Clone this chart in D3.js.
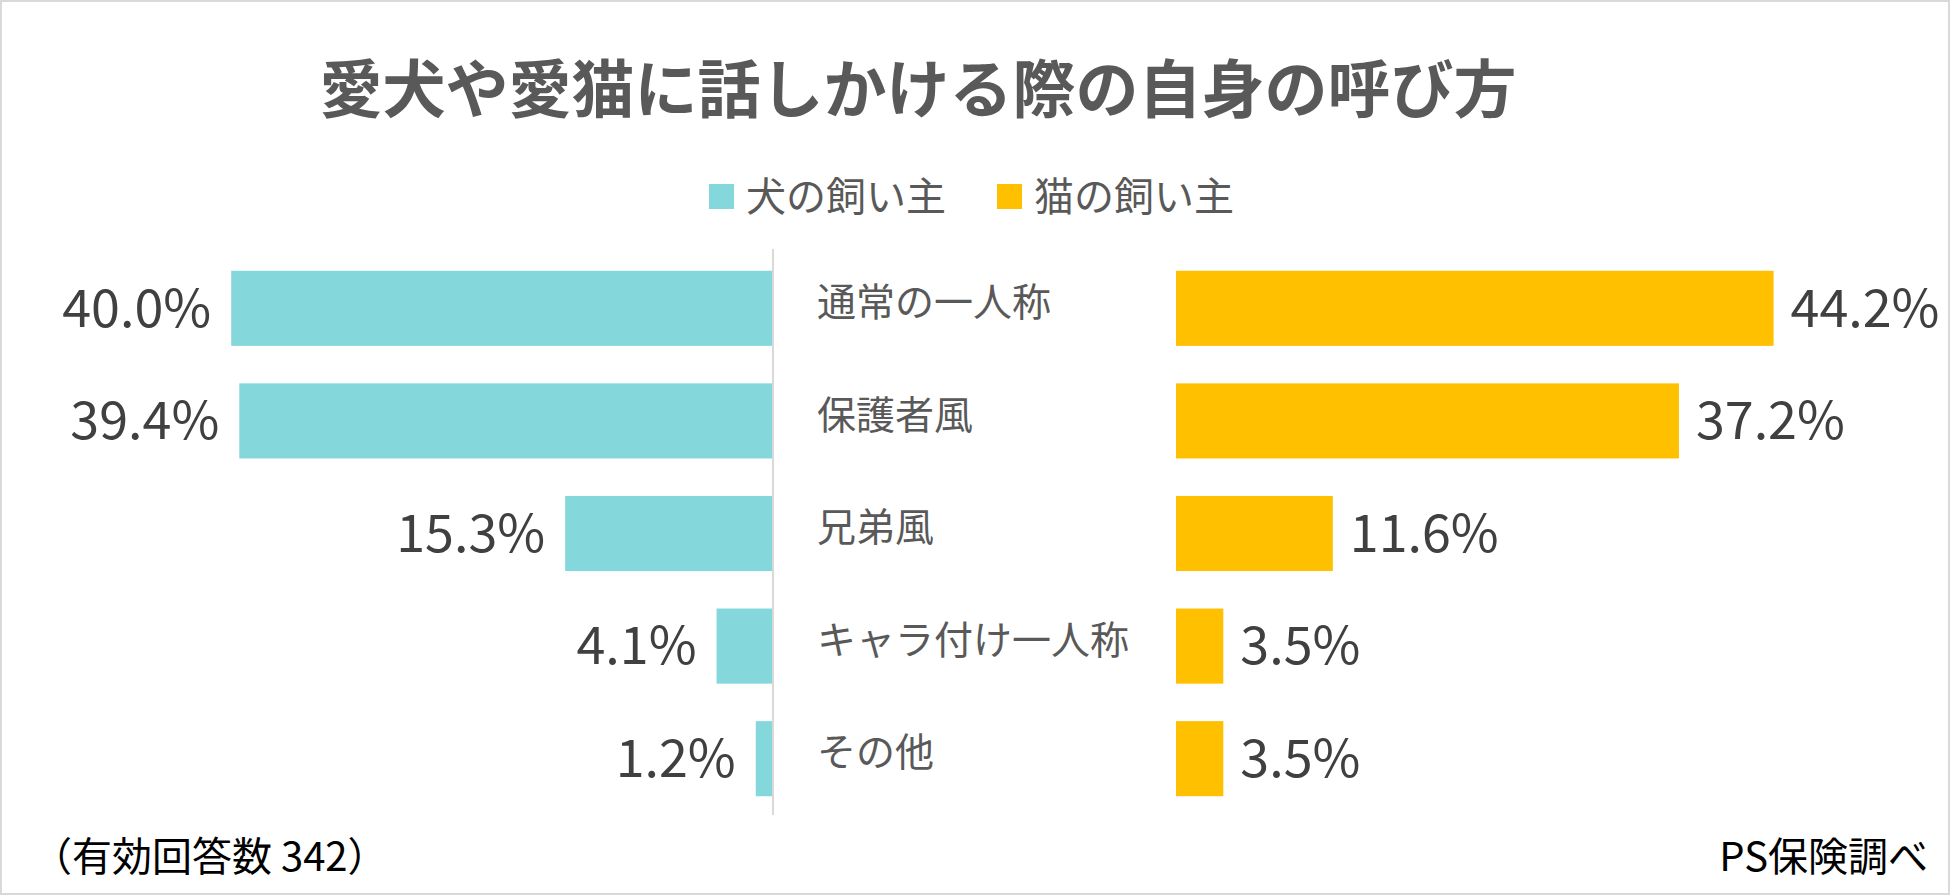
<!DOCTYPE html>
<html>
<head>
<meta charset="utf-8">
<script src="https://cdn.jsdelivr.net/npm/d3@7"></script>
<style>
  body { margin: 0; background: #fff; }
  text { font-family: "Noto Sans CJK JP", "Noto Sans", sans-serif; }
</style>
</head>
<body>
<div id="chart"></div>
<script>
// data
var categories = ["通常の一人称", "保護者風", "兄弟風", "キャラ付け一人称", "その他"];
var dogValues = [40.0, 39.4, 15.3, 4.1, 1.2];
var catValues = [44.2, 37.2, 11.6, 3.5, 3.5];
var seriesNames = ["犬の飼い主", "猫の飼い主"];

var svgWidth = 1950;
var svgHeight = 895;
var colors = ["#84D7DB", "#FFC000"];

var svg = d3.select("#chart")
    .append("svg")
    .attr("width", svgWidth)
    .attr("height", svgHeight);

// outer border
svg.append("rect")
    .attr("x", 1).attr("y", 1)
    .attr("width", svgWidth - 2).attr("height", svgHeight - 2)
    .attr("fill", "#fff")
    .attr("stroke", "#d9d9d9")
    .attr("stroke-width", 2);

// title
svg.append("text")
    .attr("x", 918)
    .attr("y", 90)
    .attr("dy", "0.35em")
    .attr("text-anchor", "middle")
    .style("font-size", "63px")
    .style("font-weight", "bold")
    .attr("fill", "#595959")
    .text("愛犬や愛猫に話しかける際の自身の呼び方");

// legend
var legendX = [709, 997];
seriesNames.forEach(function(name, i) {
    svg.append("rect")
        .attr("x", legendX[i])
        .attr("y", 184)
        .attr("width", 25)
        .attr("height", 25)
        .attr("fill", colors[i]);
    svg.append("text")
        .attr("x", legendX[i] + 37)
        .attr("y", 197)
        .attr("dy", "0.35em")
        .style("font-size", "40px")
        .attr("fill", "#595959")
        .text(name);
});

// scales
var centerX = 772;
var rightStart = 1176;
var pxPerPct = 13.52;

var yScale = d3.scaleBand()
    .domain(categories)
    .range([252, 815])
    .paddingInner(0.333)
    .paddingOuter(0.1667);

var xLeft = d3.scaleLinear()
    .domain([0, 50])
    .range([centerX, centerX - 50 * pxPerPct]);

var xRight = d3.scaleLinear()
    .domain([0, 50])
    .range([rightStart, rightStart + 50 * pxPerPct]);

var chartGroup = svg.append("g");

// left bars (dogs)
chartGroup.selectAll(".dog")
    .data(dogValues)
    .enter()
    .append("rect")
    .attr("class", "dog")
    .attr("x", d => xLeft(d))
    .attr("y", (d, i) => yScale(categories[i]))
    .attr("width", d => xLeft(0) - xLeft(d))
    .attr("height", yScale.bandwidth())
    .attr("fill", colors[0]);

// right bars (cats)
chartGroup.selectAll(".cat")
    .data(catValues)
    .enter()
    .append("rect")
    .attr("class", "cat")
    .attr("x", xRight(0))
    .attr("y", (d, i) => yScale(categories[i]))
    .attr("width", d => xRight(d) - xRight(0))
    .attr("height", yScale.bandwidth())
    .attr("fill", colors[1]);

// center axis line
chartGroup.append("line")
    .attr("x1", centerX + 1).attr("x2", centerX + 1)
    .attr("y1", 249).attr("y2", 815)
    .attr("stroke", "#d9d9d9")
    .attr("stroke-width", 2);

// value labels
chartGroup.selectAll(".dogLabel")
    .data(dogValues)
    .enter()
    .append("text")
    .attr("x", d => xLeft(d) - 20)
    .attr("y", (d, i) => yScale(categories[i]) + yScale.bandwidth() / 2)
    .attr("dy", "0.35em")
    .attr("text-anchor", "end")
    .style("font-size", "52px")
    .attr("fill", "#404040")
    .text(d => d.toFixed(1) + "%");

chartGroup.selectAll(".catLabel")
    .data(catValues)
    .enter()
    .append("text")
    .attr("x", d => xRight(d) + 17)
    .attr("y", (d, i) => yScale(categories[i]) + yScale.bandwidth() / 2)
    .attr("dy", "0.35em")
    .style("font-size", "52px")
    .attr("fill", "#404040")
    .text(d => d.toFixed(1) + "%");

// category labels
chartGroup.selectAll(".catName")
    .data(categories)
    .enter()
    .append("text")
    .attr("x", 817)
    .attr("y", d => yScale(d) + yScale.bandwidth() / 2 - 6)
    .attr("dy", "0.35em")
    .style("font-size", "39px")
    .attr("fill", "#595959")
    .text(d => d);

// footer notes
svg.append("text")
    .attr("x", 32)
    .attr("y", 871)
    .style("font-size", "40px")
    .attr("fill", "#000")
    .text("（有効回答数 342）");

svg.append("text")
    .attr("x", 1928)
    .attr("y", 871)
    .attr("text-anchor", "end")
    .style("font-size", "40px")
    .attr("fill", "#000")
    .text("PS保険調べ");
</script>
</body>
</html>
